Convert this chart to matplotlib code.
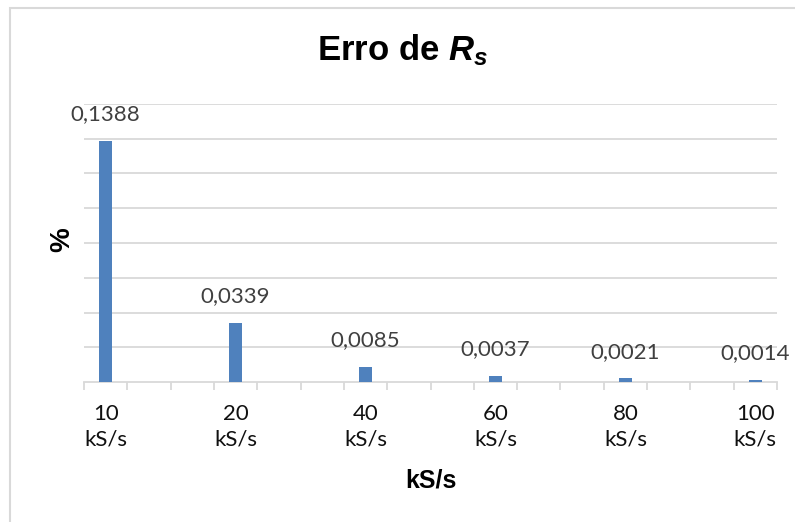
"""Erro de Rs por taxa de amostragem - gráfico de barras."""

import matplotlib
matplotlib.use('Agg')
import matplotlib.pyplot as plt
from matplotlib.patches import Rectangle

# taxas de amostragem e erro (%) correspondente
rates = ['10', '20', '40', '60', '80', '100']
rs_error = [0.1388, 0.0339, 0.0085, 0.0037, 0.0021, 0.0014]

# o eixo de categorias tem 16 posições; só uma em cada três recebe barra
SLOT_STEP = 3
N_SLOTS = 16
BAR_COLOR = '#4F81BD'
GRID_COLOR = '#D9D9D9'

plt.rcParams['mathtext.fontset'] = 'custom'
plt.rcParams['mathtext.rm'] = 'Liberation Sans:bold'
plt.rcParams['mathtext.bf'] = 'Liberation Sans:bold'
plt.rcParams['mathtext.bfit'] = 'Liberation Sans:bold:italic'
plt.rcParams['mathtext.it'] = 'Liberation Sans:bold:italic'

W, H = 795, 522
fig = plt.figure(figsize=(W / 100, H / 100), dpi=100)
ax = fig.add_axes([84 / W, (H - 382) / H, (777 - 84) / W, (382 - 104) / H])

positions = [SLOT_STEP * i for i in range(len(rates))]
bars = ax.bar(positions, rs_error, width=0.31, color=BAR_COLOR, zorder=3)

for bar, value in zip(bars, rs_error):
    ax.annotate(f'{value:.4f}'.replace('.', ','),
                xy=(bar.get_x() + bar.get_width() / 2, bar.get_height()),
                xytext=(0, 12), textcoords='offset points',
                ha='center', va='bottom', fontsize=16, family='Lato',
                color='#404040')

ax.set_xlim(-0.5, N_SLOTS - 0.5)
ax.set_ylim(0, 0.16)
ax.set_yticks([0.02 * k for k in range(1, 9)])
ax.yaxis.grid(True, color=GRID_COLOR, linewidth=1.3, zorder=0)
ax.tick_params(axis='y', length=0, labelleft=False)

ax.set_xticks(positions)
ax.set_xticklabels([f'{r}\nkS/s' for r in rates], fontsize=16, family='Lato',
                   color='#111111', linespacing=1.35)
ax.set_xticks([k - 0.5 for k in range(N_SLOTS + 1)], minor=True)
ax.tick_params(axis='x', which='major', length=0, pad=16)
ax.tick_params(axis='x', which='minor', length=5.5, width=1.3,
               color=GRID_COLOR)

for side in ('left', 'right', 'top'):
    ax.spines[side].set_visible(False)
ax.spines['bottom'].set_color(GRID_COLOR)
ax.spines['bottom'].set_linewidth(1.3)

fig.text(403 / W, 1 - 50 / H, r'Erro de $\mathbfit{R}_{\mathbfit{s}}$',
         ha='center', va='center', fontsize=25, fontweight='bold',
         family='Liberation Sans')
fig.text(431 / W, 1 - 481 / H, 'kS/s', ha='center', va='center',
         fontsize=18, fontweight='bold', family='Liberation Sans')
fig.text(62 / W, 1 - 240 / H, '%', ha='center', va='center', rotation=90,
         fontsize=20, fontweight='bold', family='Liberation Sans')

# moldura da área do gráfico
fig.add_artist(Rectangle((10 / W, -0.05), 1.2, 1.05 - 8 / H,
                         transform=fig.transFigure, fill=False,
                         edgecolor=GRID_COLOR, linewidth=1.5))

fig.savefig('out.png', dpi=100, facecolor='white')
